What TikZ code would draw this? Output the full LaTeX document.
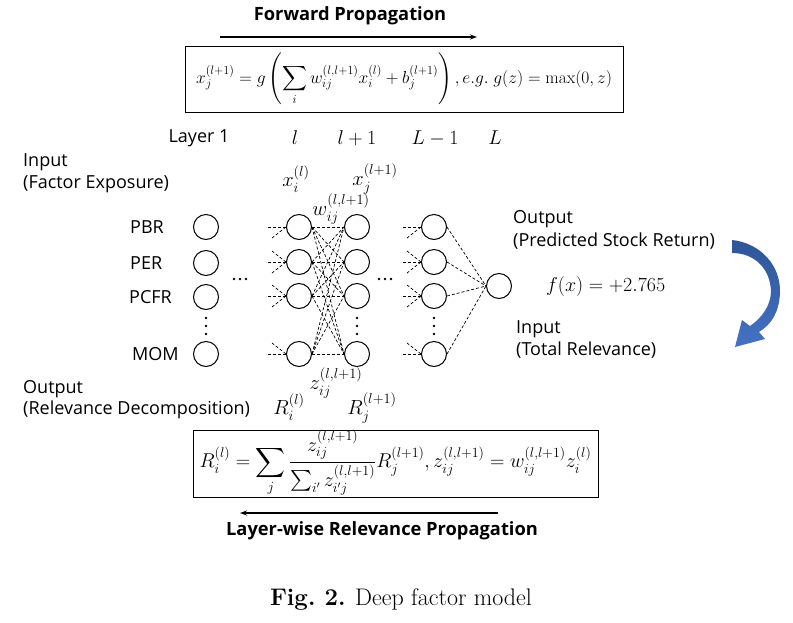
\RequirePackage{fix-cm}
\documentclass[tikz,border=0pt]{standalone}
\usepackage{amsmath}
\usepackage{fontspec}
\setsansfont{Open Sans}
\usetikzlibrary{arrows.meta}
\definecolor{arrowdark}{RGB}{47,85,151}
\definecolor{arrowlight}{RGB}{68,114,196}
\begin{document}
\begin{tikzpicture}[x=1pt,y=-1pt,
  neuron/.style={circle,draw,line width=1pt,minimum size=25pt,inner sep=0pt},
  link/.style={dash pattern=on 3pt off 2pt,line width=0.7pt},
  lbl/.style={font=\sffamily\fontsize{18}{21}\selectfont,inner sep=0pt},
  ttl/.style={font=\sffamily\bfseries\fontsize{18.3}{21}\selectfont,inner sep=0pt},
  mth/.style={font=\fontsize{20.5}{24}\selectfont,inner sep=0pt},
  laym/.style={font=\fontsize{20}{24}\selectfont,inner sep=0pt},
  eqbox/.style={draw,line width=0.9pt,inner sep=0pt},
  flow/.style={line width=1.1pt,-{Stealth[length=7pt,width=5pt]}},
  dot/.style={circle,fill,inner sep=0pt,minimum size=2.6pt},
]
\useasboundingbox (0,0) rectangle (793,622);

% titles and arrows
\node[ttl] (fwd) at (350,16) {Forward Propagation};
\coordinate (fa) at (220,37);
\coordinate (fb) at (477,37);
\draw[flow] (fa) -- (fb);

\node[eqbox,minimum width=438pt,minimum height=66pt,font=\fontsize{17.4}{21}\selectfont] (feq) at (404,79)
 {$\displaystyle x_j^{(l+1)} = g\left(\sum_i w_{ij}^{(l,l+1)} x_i^{(l)} + b_j^{(l+1)}\right), e.g.\; g(z) = \max(0,z)$};

% layer labels
\node[lbl] (lay1) at (199,138) {Layer 1};
\node[laym] (layl) at (295,138) {$l$};
\node[laym] (laylp) at (357,138) {$l+1$};
\node[laym] (layLm) at (435,138) {$L-1$};
\node[laym] (layL) at (495,138) {$L$};

% left labels
\node[lbl,anchor=west] (in1) at (23,162) {Input};
\node[lbl,anchor=west] (in2) at (23,184) {(Factor Exposure)};
\node[lbl,anchor=west] (out1) at (23,389) {Output};
\node[lbl,anchor=west] (out2) at (23,410) {(Relevance Decomposition)};

% factor names
\node[lbl,anchor=west] (pbr) at (130,227) {PBR};
\node[lbl,anchor=west] (per) at (130,263) {PER};
\node[lbl,anchor=west] (pcfr) at (129,297) {PCFR};
\node[lbl,anchor=west] (mom) at (132,354) {MOM};

% neurons
\foreach \n/\y in {a/227,b/263,c/297,d/354}{
  \node[neuron] (f\n) at (206,\y) {};
}
\foreach \n/\y in {a/227,b/262,c/296,d/354}{
  \node[neuron] (l\n) at (299,\y) {};
  \node[neuron] (m\n) at (357,\y) {};
  \node[neuron] (k\n) at (434,\y) {};
}
\node[neuron] (out) at (499,286) {};

% dots
\foreach \x in {234,240,246,379,385,391}{
  \node[dot] at (\x,279) {};
}
\foreach \x in {206,357,434}{
  \foreach \y in {318,326,334}{
    \node[dot] at (\x,\y) {};
  }
}

% full connections l -> l+1
\foreach \a in {a,b,c,d}{
  \foreach \b in {a,b,c,d}{
    \draw[link] (l\a.east) -- (m\b.west);
  }
  \draw[link] (k\a.east) -- (out.west);
}

% incoming stubs
\foreach \c in {l,k}{
  \foreach \n in {a,b,c,d}{
    \draw[link] (\c\n.west) -- ++(-20,0);
  }
  \foreach \n in {a,b,c}{
    \draw[link] (\c\n.west) -- ++(-14,11);
  }
  \foreach \n in {b,c,d}{
    \draw[link] (\c\n.west) -- ++(-14,-11);
  }
}

% math labels
\node[mth] (xi) at (296,179) {$x_i^{(l)}$};
\node[mth] (xj) at (375,179) {$x_j^{(l+1)}$};
\node[mth] (wij) at (341,209) {$w_{ij}^{(l,l+1)}$};
\node[mth] (zij) at (336,383) {$z_{ij}^{(l,l+1)}$};
\node[mth] (ri) at (289,407) {$R_i^{(l)}$};
\node[mth] (rj) at (372,408) {$R_j^{(l+1)}$};

% right labels
\node[lbl,anchor=west] (o1) at (513,219) {Output};
\node[lbl,anchor=west] (o2) at (513,241) {(Predicted Stock Return)};
\node[laym,anchor=west] (fx) at (546,286) {$f(x) = +2.765$};
\node[lbl,anchor=west] (i1) at (516,329) {Input};
\node[lbl,anchor=west] (i2) at (516,350) {(Total Relevance)};

% curved blue arrow
\shade[top color=arrowdark,bottom color=arrowlight]
 (732,240) .. controls (760,243) and (781,265) .. (780,293)
 .. controls (779,312) and (772,324) .. (759,332)
 -- (765,339) -- (735,347) -- (742,320) -- (750,326)
 .. controls (762,318) and (771,305) .. (771,291)
 .. controls (770,268) and (754,253) .. (732,253) -- cycle;

% bottom equation
\node[eqbox,minimum width=405pt,minimum height=67pt,font=\fontsize{20}{24}\selectfont] (beq) at (395.5,463.5)
 {$\displaystyle R_i^{(l)} = \sum_j \frac{z_{ij}^{(l,l+1)}}{\sum_{i'} z_{i'j}^{(l,l+1)}} R_j^{(l+1)}, z_{ij}^{(l,l+1)} = w_{ij}^{(l,l+1)} z_i^{(l)}$};

\coordinate (ba) at (498,513);
\coordinate (bb) at (240,513);
\draw[flow] (ba) -- (bb);
\node[ttl] (lrp) at (382,531) {Layer-wise Relevance Propagation};

% caption
\node[font=\fontsize{24}{28}\selectfont,inner sep=0pt] (cap) at (401,599) {\textbf{Fig.\ 2.} Deep factor model};
\end{tikzpicture}
\end{document}
